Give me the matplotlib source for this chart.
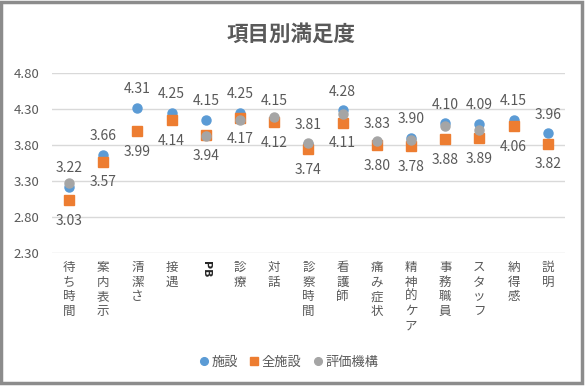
import numpy as np
import matplotlib
matplotlib.use('Agg')
import matplotlib.pyplot as plt
from matplotlib.patches import Rectangle

plt.rcParams['font.family'] = ['Noto Sans CJK JP', 'DejaVu Sans']

categories = ['待ち時間', '案内表示', '清潔さ', '接遇', 'PB', '診療', '対話', '診察時間',
              '看護師', '痛み症状', '精神的ケア', '事務職員', 'スタッフ', '納得感', '説明']
shisetsu = [3.22, 3.66, 4.31, 4.25, 4.15, 4.25, 4.15, 3.81, 4.28, 3.83, 3.90, 4.10, 4.09, 4.15, 3.96]
zen_shisetsu = [3.03, 3.57, 3.99, 4.14, 3.94, 4.17, 4.12, 3.74, 4.11, 3.80, 3.78, 3.88, 3.89, 4.06, 3.82]
hyoka = [3.27, np.nan, np.nan, np.nan, 3.93, 4.14, 4.19, 3.83, 4.23, 3.85, 3.87, 4.06, 4.01, np.nan, np.nan]
yticks = [2.30, 2.80, 3.30, 3.80, 4.30, 4.80]

blue = '#5B9BD5'
orange = '#ED7D31'
gray = '#A5A5A5'
txt = '#595959'

fig = plt.figure(figsize=(5.86, 3.86), dpi=100)
ax = fig.add_axes([0.0887, 0.3446, 0.8753, 0.4664])

x = np.arange(len(categories))
ax.plot(x, shisetsu, 'o', color=blue, markersize=6.5, label='施設', zorder=3)
ax.plot(x, zen_shisetsu, 's', color=orange, markersize=6.5, label='全施設', zorder=3)
ax.plot(x, hyoka, 'o', color=gray, markersize=6.5, label='評価機構', zorder=4)

for i in range(len(categories)):
    ax.annotate('%.2f' % shisetsu[i], (x[i], shisetsu[i]), xytext=(0, 13.5),
                textcoords='offset points', ha='center', va='center', fontsize=10, color=txt)
    ax.annotate('%.2f' % zen_shisetsu[i], (x[i], zen_shisetsu[i]), xytext=(0, -15),
                textcoords='offset points', ha='center', va='center', fontsize=10, color=txt)

ax.set_xlim(-0.5, len(categories) - 0.5)
ax.set_ylim(2.30, 4.80)
ax.set_yticks(yticks)
ax.set_yticklabels(['%.2f' % v for v in yticks], fontsize=9.5, color=txt)
ax.grid(axis='y', color='#D9D9D9', linewidth=1)
ax.set_axisbelow(True)
for s in ax.spines.values():
    s.set_visible(False)
ax.tick_params(axis='y', length=0, pad=9)
ax.tick_params(axis='x', length=0)

ax.set_xticks(x)
ax.set_xticklabels([])
for i, c in enumerate(categories):
    if c.isascii():
        ax.text(x[i], 2.19, c, rotation=-90, ha='center', va='top', fontsize=8,
                color='#262626', family=['DejaVu Sans'], fontweight='bold')
    else:
        ax.text(x[i], 2.19, '\n'.join(c), ha='center', va='top', fontsize=9,
                color=txt, linespacing=1.17)

fig.text(0.497, 0.912, '項目別満足度', ha='center', va='center', fontsize=15.5,
         fontweight='bold', color=txt)

leg = fig.legend(loc='center', bbox_to_anchor=(0.49, 0.062), ncol=3, frameon=False,
                 fontsize=9.5, handletextpad=0.0, columnspacing=0.6, handlelength=1.2,
                 markerscale=0.85)
for t in leg.get_texts():
    t.set_color(txt)

fig.patches.append(Rectangle((0.002, 0.008), 0.991, 0.988, transform=fig.transFigure,
                             fill=False, edgecolor='#8C8C8C', linewidth=2.5))

fig.savefig('out.png', dpi=100)
